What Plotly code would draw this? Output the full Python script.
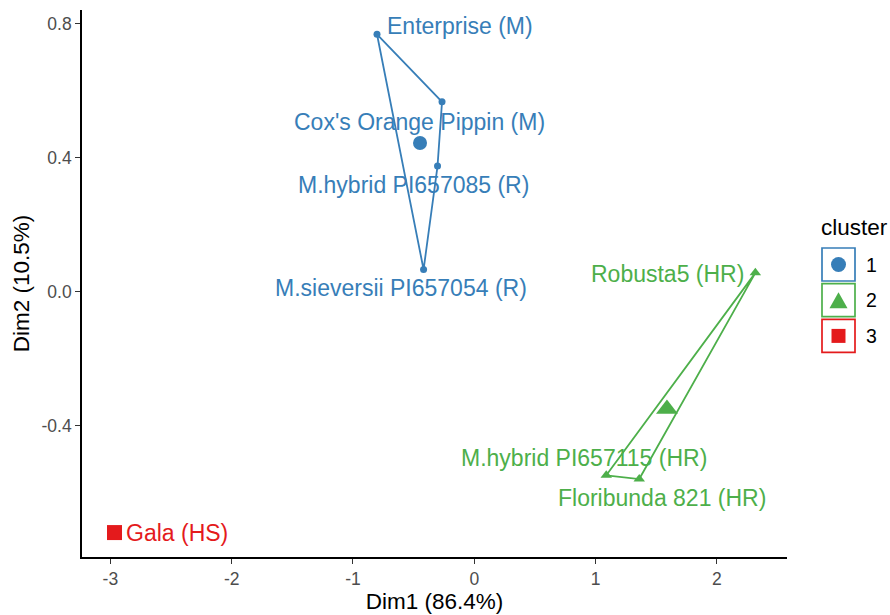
import plotly.graph_objects as go

# ---------------- data ----------------
names = ["Enterprise (M)", "Cox's Orange Pippin (M)", "M.hybrid PI657085 (R)",
         "M.sieversii PI657054 (R)", "Robusta5 (HR)", "M.hybrid PI657115 (HR)",
         "Floribunda 821 (HR)", "Gala (HS)"]
dim1 = [-0.802, -0.266, -0.303, -0.418, 2.317, 1.088, 1.360, -2.966]
dim2 = [0.769, 0.567, 0.375, 0.066, 0.056, -0.549, -0.560, -0.720]
cluster = [1, 1, 1, 1, 2, 2, 2, 3]
cluster_ids = [1, 2, 3]
x_ticks = [-3, -2, -1, 0, 1, 2]
y_ticks = [-0.4, 0.0, 0.4, 0.8]

# ---------------- styles ----------------
colors = {1: "#377EB8", 2: "#4DAF4A", 3: "#E41A1C"}
symbols = {1: "circle", 2: "triangle-up", 3: "square"}
small_size = {1: 7, 2: 10, 3: 8}
center_size = {1: 14, 2: 19, 3: 15}
# label offsets in pixels (dx right, dy up) – repelled label placement
label_dx = [83, -23, -24, -23, -88, -22, 23, 62]
label_dy = [8, -20, -19, -18, -1, 17, -19, 0]
FONT = "Liberation Sans, Arial, Helvetica, sans-serif"

W, H = 890, 615
L, R, T, B = 82, 103, 10, 58
xr = [-3.234, 2.578]
yr = [-0.793, 0.8415]


def hull(pts):
    pts = sorted(set(pts))
    if len(pts) <= 2:
        return pts

    def cross(o, a, b):
        return (a[0] - o[0]) * (b[1] - o[1]) - (a[1] - o[1]) * (b[0] - o[0])
    lower, upper = [], []
    for p in pts:
        while len(lower) >= 2 and cross(lower[-2], lower[-1], p) <= 0:
            lower.pop()
        lower.append(p)
    for p in reversed(pts):
        while len(upper) >= 2 and cross(upper[-2], upper[-1], p) <= 0:
            upper.pop()
        upper.append(p)
    return lower[:-1] + upper[:-1]


fig = go.Figure()

for c in cluster_ids:
    idx = [i for i, k in enumerate(cluster) if k == c]
    xs = [dim1[i] for i in idx]
    ys = [dim2[i] for i in idx]
    h = hull(list(zip(xs, ys)))
    if len(h) >= 3:
        hx = [p[0] for p in h] + [h[0][0]]
        hy = [p[1] for p in h] + [h[0][1]]
        fig.add_trace(go.Scatter(x=hx, y=hy, mode="lines",
                                 line=dict(color=colors[c], width=1.8),
                                 showlegend=False, hoverinfo="skip"))
    fig.add_trace(go.Scatter(x=xs, y=ys, mode="markers",
                             marker=dict(symbol=symbols[c], size=small_size[c],
                                         color=colors[c], line=dict(width=0)),
                             showlegend=False, text=[names[i] for i in idx]))
    cx = sum(xs) / len(xs)
    cy = sum(ys) / len(ys)
    fig.add_trace(go.Scatter(x=[cx], y=[cy], mode="markers",
                             marker=dict(symbol=symbols[c], size=center_size[c],
                                         color=colors[c], line=dict(width=0)),
                             showlegend=False, hoverinfo="skip"))

for i, n in enumerate(names):
    fig.add_annotation(x=dim1[i], y=dim2[i], text=n, showarrow=False,
                       xshift=label_dx[i], yshift=label_dy[i],
                       xanchor="center", yanchor="middle",
                       font=dict(family=FONT, size=23, color=colors[cluster[i]]))

# ---------------- manual legend (ggplot style) ----------------
pw = W - L - R
ph = H - T - B


def px(xp):
    return (xp - L) / pw


def py(yp):
    return (H - B - yp) / ph


fig.add_annotation(xref="paper", yref="paper", x=px(819), y=py(227),
                   text="cluster", showarrow=False, xanchor="left",
                   yanchor="middle", font=dict(family=FONT, size=22.5, color="#000000"))
box_x0, box_x1 = 822, 855
box_top0, box_h, step = 248, 33, 35.7
for j, c in enumerate(cluster_ids):
    top = box_top0 + j * step
    cxp = (box_x0 + box_x1) / 2
    cyp = top + box_h / 2
    fig.add_shape(type="rect", xref="paper", yref="paper",
                  x0=px(box_x0), x1=px(box_x1), y0=py(top + box_h), y1=py(top),
                  line=dict(color=colors[c], width=1.7), fillcolor="white")
    if symbols[c] == "circle":
        r = 7.5
        fig.add_shape(type="circle", xref="paper", yref="paper",
                      x0=px(cxp - r), x1=px(cxp + r), y0=py(cyp + r), y1=py(cyp - r),
                      line=dict(width=0), fillcolor=colors[c])
    elif symbols[c] == "triangle-up":
        hw, hh = 9, 8
        path = "M {} {} L {} {} L {} {} Z".format(
            px(cxp - hw), py(cyp + hh), px(cxp + hw), py(cyp + hh), px(cxp), py(cyp - hh))
        fig.add_shape(type="path", xref="paper", yref="paper", path=path,
                      line=dict(width=0), fillcolor=colors[c])
    else:
        s = 7
        fig.add_shape(type="rect", xref="paper", yref="paper",
                      x0=px(cxp - s), x1=px(cxp + s), y0=py(cyp + s), y1=py(cyp - s),
                      line=dict(width=0), fillcolor=colors[c])
    fig.add_annotation(xref="paper", yref="paper", x=px(871), y=py(cyp),
                       text=str(c), showarrow=False, xanchor="center",
                       yanchor="middle", font=dict(family=FONT, size=19.5, color="#000000"))

axis_common = dict(showline=True, linecolor="#000000", linewidth=1.6,
                   ticks="outside", ticklen=5, tickwidth=1.2, tickcolor="#333333",
                   showgrid=False, zeroline=False, mirror=False,
                   tickfont=dict(family=FONT, size=17.5, color="#4D4D4D"))

fig.update_layout(
    width=W, height=H,
    margin=dict(l=L, r=R, t=T, b=B),
    paper_bgcolor="white", plot_bgcolor="white",
    showlegend=False,
    xaxis=dict(range=xr, tickvals=x_ticks, ticktext=[str(v) for v in x_ticks],
               title=dict(text="Dim1 (86.4%)", standoff=1,
                          font=dict(family=FONT, size=22.5, color="#000000")),
               **axis_common),
    yaxis=dict(range=yr, tickvals=y_ticks, ticktext=["{:.1f}".format(v) for v in y_ticks],
               title=dict(text="Dim2 (10.5%)", standoff=6,
                          font=dict(family=FONT, size=22.5, color="#000000")),
               **axis_common),
)

fig.write_html("out.html")
